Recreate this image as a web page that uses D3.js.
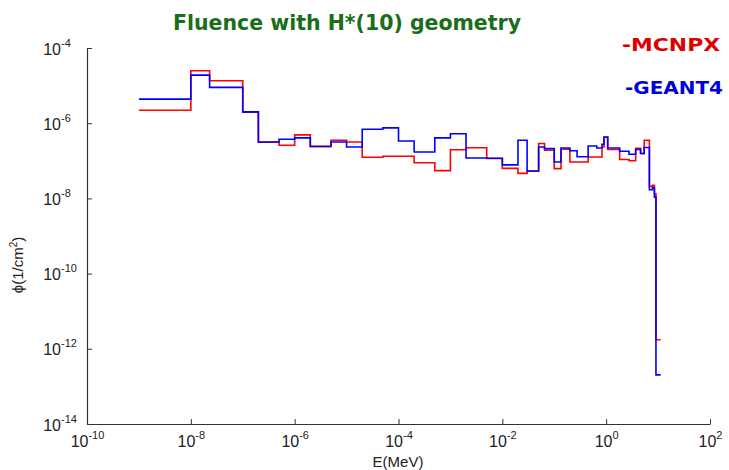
<!DOCTYPE html>
<html><head><meta charset="utf-8">
<script src="https://cdn.jsdelivr.net/npm/d3@7"></script>
<style>
body{margin:0;background:#fff;}
svg{display:block;}
</style></head>
<body>
<svg id="chart" width="729" height="470"></svg>
<script>
// Bin edges in MeV
const energyEdges = [1e-9,1e-8,2.3e-8,1e-7,2e-7,5e-7,1e-6,2e-6,5e-6,1e-5,2e-5,5e-5,1e-4,2e-4,5e-4,1e-3,2e-3,5e-3,1e-2,2e-2,3e-2,5e-2,0.065,0.1,0.135,0.2,0.275,0.45,0.66,0.83,0.91,1.07,1.82,2.75,3.7,4.6,5.4,6.8,7.8,8.5,9.1,11.2];
// Fluence per bin (1/cm^2)
const mcnpx = [2.22e-6,2.48e-5,1.34e-5,1.97e-6,3.11e-7,2.59e-7,4.88e-7,2.36e-7,3.52e-7,3.16e-7,1.24e-7,1.32e-7,1.32e-7,8.85e-8,5.48e-8,1.97e-7,2.22e-7,1.15e-7,6.3e-8,4.64e-8,5.25e-8,2.88e-7,1.9e-7,6.2e-8,2.03e-7,9.3e-8,9.3e-8,1.26e-7,1.26e-7,2.33e-7,4.23e-7,1.99e-7,1.08e-7,1.0e-7,2.15e-7,1.56e-7,3.52e-7,2.09e-8,2.22e-8,1.33e-8,1.74e-12];
const geant4 = [4.37e-6,1.9e-5,8.95e-6,2.0e-6,3.16e-7,3.74e-7,4.06e-7,2.44e-7,3.16e-7,2.33e-7,6.9e-7,7.5e-7,3.37e-7,1.72e-7,4.06e-7,5.25e-7,1.19e-7,1.17e-7,7.8e-8,3.52e-7,5.35e-8,2.33e-7,2.11e-7,9.3e-8,2.19e-7,1.85e-7,1.28e-7,2.48e-7,2.19e-7,2.75e-7,4.31e-7,2.19e-7,1.79e-7,1.49e-7,1.99e-7,1.56e-7,2.25e-7,1.7e-8,1.93e-8,1.08e-8,2.03e-13];
const xTickValues = [1e-10,1e-8,1e-6,1e-4,1e-2,1e0,1e2];
const xTickExponents = ["-10","-8","-6","-4","-2","0","2"];
const yTickValues = [1e-14,1e-12,1e-10,1e-8,1e-6,1e-4];
const yTickExponents = ["-14","-12","-10","-8","-6","-4"];
const seriesNames = ["-MCNPX","-GEANT4"];
const titleText = "Fluence with H*(10) geometry";

const svg = d3.select("#chart");
const x = d3.scaleLog().domain([1e-10,1e2]).range([87,710]);
const y = d3.scaleLog().domain([1e-14,1e-4]).range([424,48]);

const axisColor = "#333";
const tickFont = "'Liberation Sans',Arial,sans-serif";
// X axis
const gx = svg.append("g").attr("transform","translate(0,424)")
  .call(d3.axisBottom(x).tickValues(xTickValues).tickSizeInner(-5).tickSizeOuter(0).tickPadding(0).tickFormat(""));
gx.select(".domain").attr("stroke",axisColor).attr("stroke-width",1.2);
gx.selectAll(".tick line").attr("stroke",axisColor);
gx.selectAll(".tick").each(function(d,i){
  const t = d3.select(this).append("text").attr("x",0).attr("y",23).attr("text-anchor","middle")
    .attr("fill","#222").style("font-family",tickFont);
  t.append("tspan").text("10").style("font-size","16px");
  t.append("tspan").text(xTickExponents[i]).attr("dy",-8).style("font-size","11px");
});
// Y axis
const gy = svg.append("g").attr("transform","translate(87,0)")
  .call(d3.axisLeft(y).tickValues(yTickValues).tickSizeInner(-5).tickSizeOuter(0).tickPadding(0).tickFormat(""));
gy.select(".domain").attr("stroke",axisColor).attr("stroke-width",1.2);
gy.selectAll(".tick line").attr("stroke",axisColor);
gy.selectAll(".tick").each(function(d,i){
  const g = d3.select(this);
  g.append("text").attr("x",-26).attr("y",6).attr("text-anchor","end").attr("fill","#222")
    .style("font-family",tickFont).style("font-size","16px").text("10");
  g.append("text").attr("x",-26).attr("y",-2).attr("text-anchor","start").attr("fill","#222")
    .style("font-family",tickFont).style("font-size","11px").text(yTickExponents[i]);
});

// Axis labels
svg.append("text").attr("x",398).attr("y",467).attr("text-anchor","middle").attr("fill","#222")
  .style("font-family",tickFont).style("font-size","15px").text("E(MeV)");
const yl = svg.append("text").attr("transform","translate(23,265) rotate(-90)").attr("text-anchor","middle").attr("fill","#222")
  .style("font-family",tickFont).style("font-size","15px");
yl.append("tspan").text("\u03d5(1/cm");
yl.append("tspan").text("2").attr("dy",-6).style("font-size","10px");
yl.append("tspan").text(")").attr("dy",6);

// Step lines
function stepPoints(vals){
  const pts = vals.map((v,i)=>[energyEdges[i],v]);
  pts.push([energyEdges[energyEdges.length-1], vals[vals.length-1]]);
  return pts;
}
const line = d3.line().x(d=>x(d[0])).y(d=>y(d[1])).curve(d3.curveStepAfter);
const series = [{vals:mcnpx,color:"#ff0000"},{vals:geant4,color:"#0000ff"}];
svg.append("g").selectAll("path").data(series).join("path")
  .attr("d",d=>line(stepPoints(d.vals))).attr("fill","none").attr("stroke",d=>d.color)
  .attr("stroke-width",1.6).attr("stroke-linejoin","miter");

// Title
svg.append("text").attr("x",173).attr("y",30).attr("fill","#1a6e1a")
  .style("font-family","'DejaVu Sans',sans-serif").style("font-weight","bold").style("font-size","21px")
  .attr("textLength",348).attr("lengthAdjust","spacingAndGlyphs").text(titleText);
// Legend
const legendColors = ["#dd0000","#0000dd"];
const legendY = [51,94];
const legendX = [622,625];
const legendW = [98,98];
seriesNames.forEach((n,i)=>{
  svg.append("text").attr("x",legendX[i]).attr("y",legendY[i]).attr("fill",legendColors[i])
    .style("font-family","'DejaVu Sans',sans-serif").style("font-weight","bold").style("font-size","18px")
    .attr("textLength",legendW[i]).attr("lengthAdjust","spacingAndGlyphs").text(n);
});
</script>
</body></html>
